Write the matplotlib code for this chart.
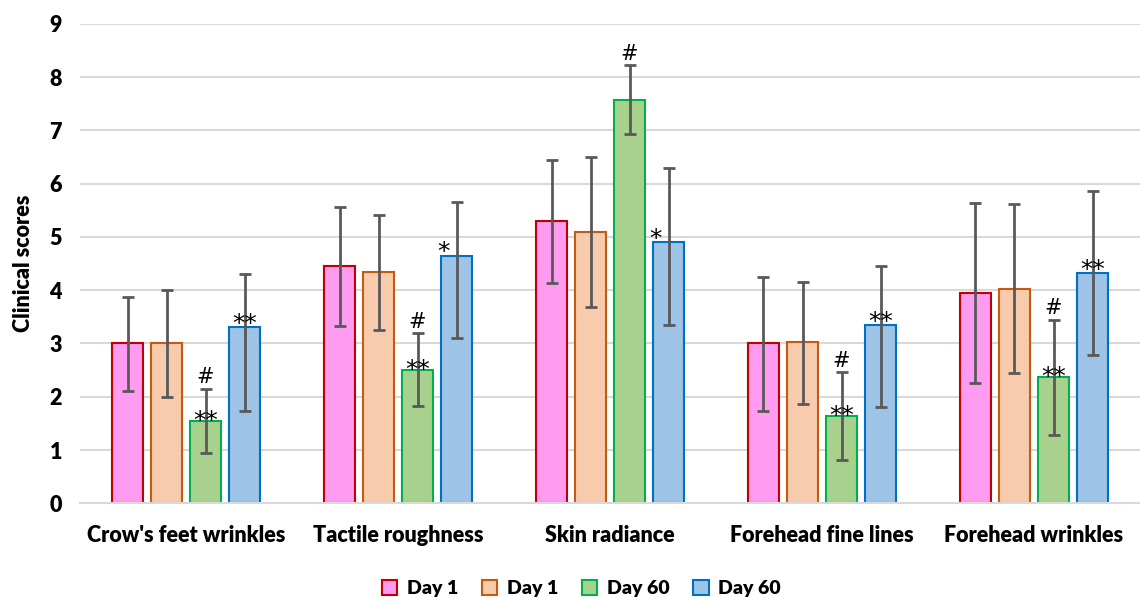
import numpy as np
import matplotlib.pyplot as plt
from matplotlib.patches import Patch

# values
categories = ["Crow's feet wrinkles", "Tactile roughness", "Skin radiance",
              "Forehead fine lines", "Forehead wrinkles"]
series_labels = ["Day 1", "Day 1", "Day 60", "Day 60"]

pink = [3.00, 4.45, 5.30, 3.00, 3.94]
pink_lo = [2.11, 3.33, 4.13, 1.73, 2.26]
pink_hi = [3.88, 5.56, 6.45, 4.25, 5.63]

orange = [3.00, 4.35, 5.10, 3.02, 4.03]
orange_lo = [1.99, 3.26, 3.69, 1.87, 2.44]
orange_hi = [4.00, 5.42, 6.50, 4.15, 5.62]

green = [1.54, 2.51, 7.57, 1.64, 2.37]
green_lo = [0.94, 1.83, 6.93, 0.81, 1.29]
green_hi = [2.15, 3.19, 8.22, 2.46, 3.45]

blue = [3.30, 4.65, 4.90, 3.34, 4.32]
blue_lo = [1.74, 3.11, 3.35, 1.80, 2.78]
blue_hi = [4.31, 5.65, 6.30, 4.45, 5.86]

green_bar_marks = ["**", "**", "", "**", "**"]
green_err_marks = ["#", "#", "#", "#", "#"]
blue_marks = ["**", "*", "*", "**", "**"]

fills = ["#FF9CF2", "#F8CBAD", "#A9D18E", "#9DC3E6"]
edges = ["#C00000", "#C55A11", "#00B050", "#0070C0"]

plt.rcParams['font.family'] = ['Lato', 'DejaVu Sans']
W = 'heavy'

fig = plt.figure(figsize=(11.4, 5.97), dpi=100)
ax = fig.add_axes([0.0702, 0.157, 0.9298, 0.803])

x = np.arange(len(categories))
width = 0.146
step = 0.184
series = [(pink, pink_lo, pink_hi), (orange, orange_lo, orange_hi),
          (green, green_lo, green_hi), (blue, blue_lo, blue_hi)]

for i, (vals, lo, hi) in enumerate(series):
    v = np.array(vals)
    yerr = [v - np.array(lo), np.array(hi) - v]
    pos = x + (i - 1.5) * step
    ax.bar(pos, v, width, color=fills[i], edgecolor=edges[i], linewidth=1.5,
           zorder=2)
    ax.errorbar(pos, v, yerr=yerr, fmt='none', ecolor='#595959',
                elinewidth=2, capsize=4.5, capthick=2, zorder=3)

# significance marks
gpos = x + 0.5 * step
bpos = x + 1.5 * step
mark_font = dict(fontsize=18, family='DejaVu Sans', zorder=4,
                 ha='center', va='baseline', textcoords='offset points')
for j in range(len(categories)):
    if green_bar_marks[j]:
        ax.annotate(green_bar_marks[j], (gpos[j], green[j]), xytext=(0, -5),
                    **mark_font)
    ax.annotate(green_err_marks[j], (gpos[j], green_hi[j]), xytext=(0, 4),
                **{**mark_font, 'fontsize': 15})
    off = 0 if len(blue_marks[j]) > 1 else -9.5
    ax.annotate(blue_marks[j], (bpos[j], blue[j]), xytext=(off, -2.5),
                **mark_font)

ax.set_ylim(0, 9)
ax.set_xlim(-0.5, len(categories) - 0.5)
ax.set_yticks(range(10))
ax.set_xticks(x)
ax.set_xticklabels(categories, fontsize=15.5, fontweight=W)
for t in ax.get_yticklabels():
    t.set_fontsize(15.5)
    t.set_fontweight(W)
ax.tick_params(axis='both', length=0)
ax.tick_params(axis='y', pad=13)
ax.tick_params(axis='x', pad=16)
ax.yaxis.grid(True, color='#D9D9D9', linewidth=1.5, zorder=0)
ax.set_axisbelow(True)
for s in ['top', 'right', 'left']:
    ax.spines[s].set_visible(False)
ax.spines['bottom'].set_color('#D9D9D9')
ax.spines['bottom'].set_linewidth(1.5)

ax.set_ylabel("Clinical scores", fontsize=15.5, fontweight=W)
ax.yaxis.set_label_coords(-0.043, 0.5)

handles = [Patch(facecolor=fills[i], edgecolor=edges[i], linewidth=1.5,
                 label=series_labels[i]) for i in range(4)]
fig.legend(handles=handles, loc='lower center', ncol=4, frameon=False,
           bbox_to_anchor=(0.51, -0.03), prop={'weight': W, 'size': 14},
           handlelength=0.8, handleheight=0.8, handletextpad=0.5,
           columnspacing=1.2)

fig.savefig("out.png", dpi=100)
